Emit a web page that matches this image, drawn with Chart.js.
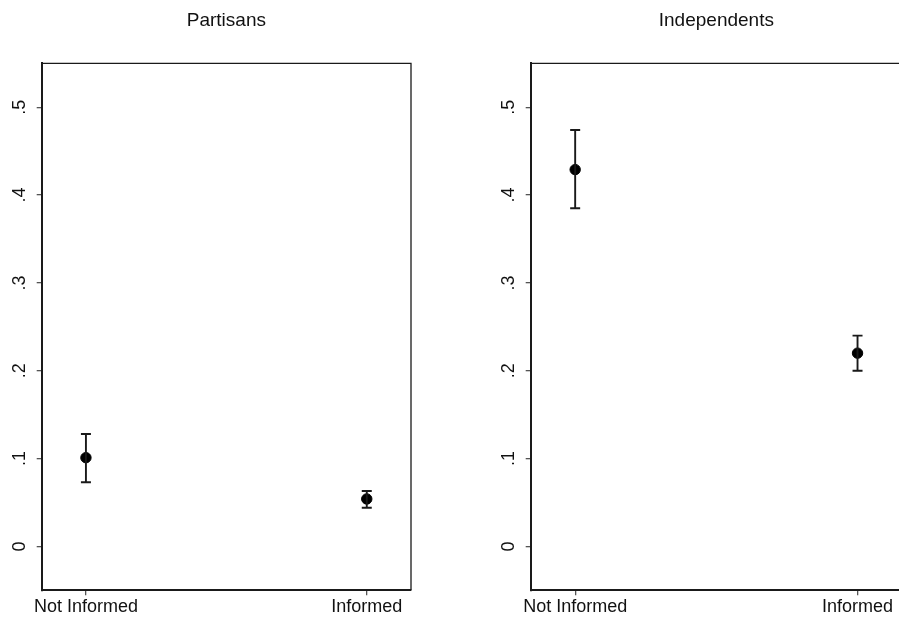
<!DOCTYPE html>
<html>
<head>
<meta charset="utf-8">
<script src="https://cdn.jsdelivr.net/npm/chart.js@4/dist/chart.umd.min.js"></script>
<style>
  html, body { margin: 0; padding: 0; background: #fff; overflow: hidden; }
  body { width: 899px; height: 621px; position: relative; }
  canvas { position: absolute; top: 0; }
  #left { left: 0; }
  #right { left: 489px; }
</style>
</head>
<body>
<canvas id="left"></canvas>
<canvas id="right"></canvas>
<script>
// data
const categories = ["Not Informed", "Informed"];
const panelTitles = ["Partisans", "Independents"];
const yTicks = [0, 0.1, 0.2, 0.3, 0.4, 0.5];
const yTickLabels = ["0", ".1", ".2", ".3", ".4", ".5"];

const partisansMean = [0.101, 0.054];
const partisansLow = [0.073, 0.044];
const partisansHigh = [0.128, 0.063];

const independentsMean = [0.429, 0.220];
const independentsLow = [0.385, 0.200];
const independentsHigh = [0.474, 0.240];

const FONT = "'Liberation Sans', Arial, Helvetica, sans-serif";

// error bars, title, box and rotated y labels
const panelPlugin = {
    id: "panel",
    afterDatasetsDraw(chart, args, opts) {
        const ctx = chart.ctx;
        const x = chart.scales.x, y = chart.scales.y;

        // confidence intervals
        ctx.save();
        ctx.strokeStyle = "#1a1a1a";
        ctx.lineWidth = 1.9;
        opts.low.forEach((lo, i) => {
            const px = x.getPixelForValue(i);
            const pLo = y.getPixelForValue(lo);
            const pHi = y.getPixelForValue(opts.high[i]);
            ctx.beginPath();
            ctx.moveTo(px, pLo); ctx.lineTo(px, pHi);
            ctx.moveTo(px - 5, pLo); ctx.lineTo(px + 5, pLo);
            ctx.moveTo(px - 5, pHi); ctx.lineTo(px + 5, pHi);
            ctx.stroke();
        });
        ctx.restore();
    },
    afterDraw(chart, args, opts) {
        const ctx = chart.ctx;
        const y = chart.scales.y;
        const area = chart.chartArea;

        // top and right edges of the plot box
        ctx.save();
        ctx.strokeStyle = "#1a1a1a";
        ctx.lineWidth = 1.3;
        ctx.beginPath();
        ctx.moveTo(area.left, area.top);
        ctx.lineTo(area.right, area.top);
        ctx.lineTo(area.right, area.bottom);
        ctx.stroke();

        // title centred over the plot
        ctx.fillStyle = "#111";
        ctx.font = "19px " + FONT;
        ctx.textAlign = "center";
        ctx.textBaseline = "alphabetic";
        ctx.fillText(opts.title, (area.left + area.right) / 2, 25.5);

        // y tick labels, rotated
        ctx.font = "18px " + FONT;
        yTicks.forEach((v, i) => {
            ctx.save();
            ctx.translate(24.5, y.getPixelForValue(v));
            ctx.rotate(-Math.PI / 2);
            ctx.fillText(yTickLabels[i], 0, 0);
            ctx.restore();
        });
        ctx.restore();
    }
};

function makePanel(id, title, mean, low, high, plotWidth) {
    const canvas = document.getElementById(id);
    canvas.width = 41.7 + plotWidth + 42;
    canvas.height = 621;
    canvas.style.width = canvas.width + "px";
    canvas.style.height = "621px";

    return new Chart(canvas.getContext("2d"), {
        type: "scatter",
        data: {
            datasets: [{
                data: mean.map((m, i) => ({ x: i, y: m })),
                backgroundColor: "#000",
                borderColor: "#000",
                pointRadius: 5.2,
                pointHoverRadius: 5.2
            }]
        },
        plugins: [panelPlugin],
        options: {
            responsive: false,
            animation: false,
            events: [],
            layout: { padding: { top: 63.3, left: 0, right: 42, bottom: 0 } },
            plugins: {
                legend: { display: false },
                tooltip: { enabled: false },
                panel: { title: title, low: low, high: high }
            },
            scales: {
                x: {
                    type: "linear",
                    min: -0.1575,
                    max: 1.1575,
                    afterBuildTicks: s => { s.ticks = categories.map((c, i) => ({ value: i })); },
                    afterFit: s => { s.height = 30.7; },
                    border: { display: true, color: "#1a1a1a", width: 2 },
                    grid: { display: true, drawOnChartArea: false, drawTicks: true, tickLength: 5, color: "#555", lineWidth: 1.3 },
                    ticks: {
                        autoSkip: false,
                        maxRotation: 0,
                        padding: 1,
                        color: "#111",
                        font: { family: FONT, size: 18 },
                        callback: v => categories[v]
                    }
                },
                y: {
                    min: -0.05,
                    max: 0.55,
                    afterBuildTicks: s => { s.ticks = yTicks.map(v => ({ value: v })); },
                    afterFit: s => { s.width = 41.7; },
                    border: { display: true, color: "#1a1a1a", width: 2 },
                    grid: { display: true, drawOnChartArea: false, drawTicks: true, tickLength: 5, color: "#555", lineWidth: 1.3 },
                    ticks: { color: "rgba(0,0,0,0)", font: { family: FONT, size: 18 } }
                }
            }
        }
    });
}

makePanel("left", panelTitles[0], partisansMean, partisansLow, partisansHigh, 370);
makePanel("right", panelTitles[1], independentsMean, independentsLow, independentsHigh, 372);
</script>
</body>
</html>
